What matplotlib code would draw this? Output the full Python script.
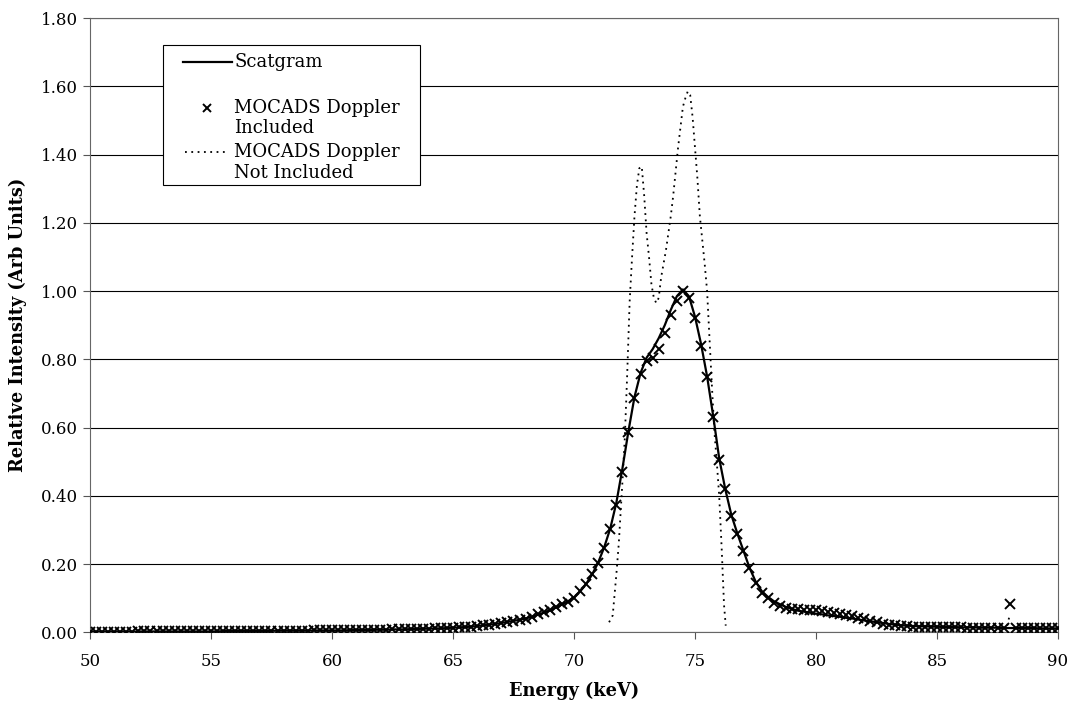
import numpy as np
import matplotlib.pyplot as plt
from matplotlib.patches import Rectangle

# Energy grid of the marker series (keV)
energy = np.arange(50.0, 90.001, 0.25)

# MOCADS Doppler Included (markers) at 0.25 keV
mocads_incl = [
    0.002, 0.002, 0.002, 0.002, 0.002, 0.002, 0.002, 0.002, 0.003, 0.003,
    0.003, 0.003, 0.003, 0.003, 0.003, 0.003, 0.003, 0.003, 0.003, 0.003,
    0.003, 0.003, 0.004, 0.004, 0.004, 0.004, 0.004, 0.004, 0.004, 0.004,
    0.005, 0.005, 0.005, 0.005, 0.005, 0.005, 0.005, 0.006, 0.006, 0.006,
    0.006, 0.006, 0.006, 0.007, 0.007, 0.007, 0.007, 0.008, 0.008, 0.008,
    0.009, 0.009, 0.009, 0.010, 0.010, 0.011, 0.011, 0.012, 0.012, 0.013,
    0.014, 0.015, 0.016, 0.017, 0.019, 0.021, 0.023, 0.025, 0.028, 0.031,
    0.034, 0.037, 0.040, 0.046, 0.053, 0.059, 0.066, 0.074, 0.084, 0.090,
    0.100, 0.122, 0.142, 0.172, 0.204, 0.248, 0.302, 0.372, 0.471, 0.587,
    0.686, 0.756, 0.794, 0.803, 0.829, 0.878, 0.930, 0.971, 1.000, 0.980,
    0.922, 0.840, 0.747, 0.631, 0.506, 0.419, 0.340, 0.288, 0.238, 0.189,
    0.145, 0.116, 0.102, 0.087, 0.078, 0.073, 0.070, 0.068, 0.067, 0.066,
    0.065, 0.063, 0.061, 0.058, 0.055, 0.051, 0.047, 0.043, 0.039, 0.034,
    0.030, 0.026, 0.023, 0.021, 0.019, 0.018, 0.017, 0.017, 0.016, 0.016,
    0.016, 0.015, 0.015, 0.015, 0.015, 0.014, 0.014, 0.014, 0.014, 0.014,
    0.013, 0.013, 0.082, 0.013, 0.013, 0.013, 0.012, 0.012, 0.012, 0.012,
    0.012,
]

# Scatgram (solid line), same grid
scatgram = [
    0.002, 0.002, 0.002, 0.002, 0.002, 0.002, 0.002, 0.002, 0.003, 0.003,
    0.003, 0.003, 0.003, 0.003, 0.003, 0.003, 0.003, 0.003, 0.003, 0.003,
    0.003, 0.003, 0.004, 0.004, 0.004, 0.004, 0.004, 0.004, 0.004, 0.004,
    0.005, 0.005, 0.005, 0.005, 0.005, 0.005, 0.005, 0.006, 0.006, 0.006,
    0.006, 0.006, 0.006, 0.007, 0.007, 0.007, 0.007, 0.008, 0.008, 0.008,
    0.009, 0.009, 0.009, 0.010, 0.010, 0.011, 0.011, 0.012, 0.012, 0.013,
    0.014, 0.015, 0.016, 0.017, 0.019, 0.021, 0.023, 0.025, 0.028, 0.031,
    0.034, 0.037, 0.041, 0.046, 0.052, 0.058, 0.065, 0.073, 0.082, 0.091,
    0.103, 0.120, 0.142, 0.170, 0.205, 0.250, 0.305, 0.380, 0.480, 0.590,
    0.690, 0.760, 0.805, 0.830, 0.862, 0.900, 0.945, 0.985, 1.005, 0.985,
    0.925, 0.845, 0.750, 0.635, 0.510, 0.420, 0.345, 0.290, 0.240, 0.190,
    0.150, 0.122, 0.105, 0.092, 0.083, 0.075, 0.069, 0.064, 0.061, 0.058,
    0.055, 0.053, 0.050, 0.048, 0.046, 0.043, 0.041, 0.038, 0.035, 0.033,
    0.030, 0.028, 0.025, 0.023, 0.021, 0.020, 0.019, 0.018, 0.018, 0.017,
    0.017, 0.016, 0.016, 0.016, 0.015, 0.015, 0.015, 0.014, 0.014, 0.014,
    0.014, 0.013, 0.013, 0.013, 0.013, 0.013, 0.013, 0.012, 0.012, 0.012,
    0.012,
]

# MOCADS Doppler Not Included (dotted line)
nodop_e = [71.45, 71.6, 71.75, 71.85, 72.0, 72.1, 72.2, 72.3, 72.4, 72.5,
           72.6, 72.7, 72.8, 72.9, 73.0, 73.1, 73.2, 73.3, 73.4, 73.5,
           73.6, 73.7, 73.8, 73.9, 74.0, 74.1, 74.2, 74.3, 74.4, 74.5,
           74.6, 74.7, 74.8, 74.9, 75.0, 75.1, 75.2, 75.3, 75.4, 75.5,
           75.6, 75.7, 75.8, 75.9, 76.0, 76.1, 76.2, 76.27]
nodop_i = [0.03, 0.05, 0.17, 0.26, 0.44, 0.57, 0.76, 0.97, 1.10, 1.22,
           1.31, 1.36, 1.365, 1.28, 1.17, 1.10, 1.02, 0.98, 0.965, 0.98,
           1.04, 1.08, 1.12, 1.17, 1.22, 1.28, 1.35, 1.42, 1.48, 1.54,
           1.565, 1.585, 1.575, 1.51, 1.42, 1.33, 1.22, 1.15, 1.08, 1.00,
           0.86, 0.72, 0.59, 0.50, 0.40, 0.25, 0.08, 0.02]
# small dotted blip near 88 keV
blip_e = [87.9, 88.0]
blip_i = [0.02, 0.05]

plt.rcParams['font.family'] = ['DejaVu Serif']
dots = (0, (1, 2.5))

fig = plt.figure(figsize=(10.75, 7.07), dpi=100)
ax = fig.add_axes([0.0837, 0.1054, 0.9005, 0.8691])

ax.plot(energy, scatgram, color='black', lw=1.6, zorder=3)
ax.plot(energy, mocads_incl, ls='none', marker='x', ms=6.5, mew=1.4,
        color='black', zorder=4)
ax.plot(nodop_e, nodop_i, color='black', ls=dots, lw=1.3, zorder=2)
ax.plot(blip_e, blip_i, color='black', ls=dots, lw=1.3, zorder=2)

ax.set_xlim(50, 90)
ax.set_ylim(0, 1.8)
ax.set_xticks(np.arange(50, 91, 5))
ax.set_yticks(np.arange(0, 1.81, 0.2))
ax.set_yticklabels([f'{v:.2f}' for v in np.arange(0, 1.81, 0.2)])
ax.tick_params(axis='both', labelsize=12, length=5, width=0.8,
               direction='out', color='#555555')
ax.tick_params(axis='x', pad=10)
ax.grid(axis='y', color='black', lw=0.8)
ax.set_axisbelow(True)
for s in ax.spines.values():
    s.set_color('#666666')
    s.set_linewidth(0.8)

ax.set_xlabel('Energy (keV)', fontsize=12.8, fontweight='bold', labelpad=8)
ax.set_ylabel('Relative Intensity (Arb Units)', fontsize=12.8,
              fontweight='bold', labelpad=10)

# legend box drawn by hand (Excel style spacing)
tr = ax.transAxes
ax.add_patch(Rectangle((0.0751, 0.7282), 0.2655, 0.2278, transform=tr,
                       facecolor='white', edgecolor='black', lw=0.8,
                       zorder=6))
ax.plot([0.0961, 0.1464], [0.9289, 0.9289], transform=tr, color='black',
        lw=1.6, zorder=7)
ax.plot([0.1206], [0.8535], transform=tr, ls='none', marker='x', ms=6,
        mew=1.4, color='black', zorder=7)
ax.plot([0.0981, 0.1426], [0.7819, 0.7819], transform=tr, color='black',
        ls=dots, lw=1.3, zorder=7)
legend_rows = [('Scatgram', 0.9289), ('MOCADS Doppler', 0.8535),
               ('Included', 0.8210), ('MOCADS Doppler', 0.7819),
               ('Not Included', 0.7478)]
for txt, yy in legend_rows:
    ax.text(0.1488, yy, txt, transform=tr, fontsize=13, va='center',
            ha='left', zorder=7)

plt.savefig('out.png', dpi=100)
